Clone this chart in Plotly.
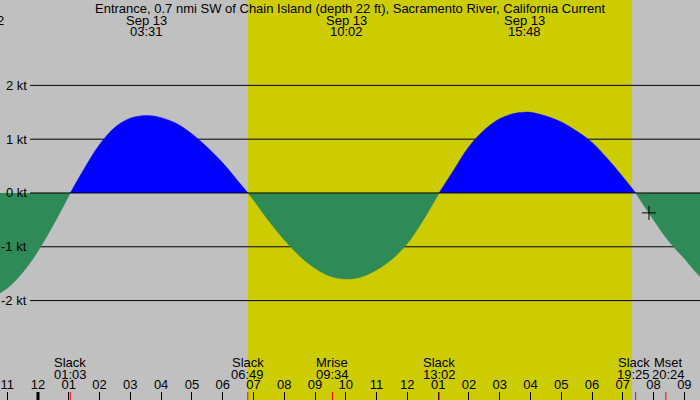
import plotly.graph_objects as go

# Tidal current, hours from Sep 13 00:00, speed in knots (flood > 0, ebb < 0)
hours = [-1.78, -1.5, -1.0, -0.5, 0.0, 0.5, 1.05, 1.5, 2.0, 2.5, 3.0, 3.52, 4.0, 4.5,
         5.0, 5.5, 6.0, 6.5, 6.82, 7.0, 7.5, 8.0, 8.5, 9.0, 9.5, 10.03, 10.5, 11.0,
         11.5, 12.0, 12.5, 13.03, 13.5, 14.0, 14.5, 15.0, 15.5, 15.8, 16.0, 16.5,
         17.0, 17.5, 18.0, 18.5, 19.0, 19.42, 20.0, 20.5, 21.0, 21.5, 22.0]
knots = [-1.95, -1.93, -1.77, -1.48, -1.08, -0.59, 0.0, 0.45, 0.90, 1.22, 1.39, 1.44, 1.40, 1.29,
         1.10, 0.85, 0.56, 0.22, 0.0, -0.13, -0.52, -0.87, -1.17, -1.40, -1.55, -1.60, -1.56, -1.43,
         -1.23, -0.94, -0.52, 0.0, 0.42, 0.86, 1.17, 1.38, 1.48, 1.50, 1.50, 1.43,
         1.32, 1.15, 0.94, 0.64, 0.30, 0.0, -0.50, -0.90, -1.22, -1.55, -1.78]

# max flood / ebb labels at top
max_dates = ["Sep 12", "Sep 13", "Sep 13", "Sep 13"]
max_times = ["22:13", "03:31", "10:02", "15:48"]

# events along the bottom
event_names = ["Slack", "Slack", "Mrise", "Slack", "Slack", "Mset"]
event_times = ["01:03", "06:49", "09:34", "13:02", "19:25", "20:24"]
event_shift = [0, 0, 0, 0, -2, 3]

# hour ticks
tick_hours = list(range(-1, 22))
tick_labels = ["11", "12", "01", "02", "03", "04", "05", "06", "07", "08", "09", "10", "11",
               "12", "01", "02", "03", "04", "05", "06", "07", "08", "09"]

kt_levels = [2, 1, 0, -1, -2]
kt_labels = ["2 kt", "1 kt", "0 kt", "-1 kt", "-2 kt"]

sunrise, sunset = "06:49", "19:18"
now_hour, now_kt = [19.85], [-0.37]

title = "Entrance, 0.7 nmi SW of Chain Island (depth 22 ft), Sacramento River, California Current"

X0, X1 = -1.2346, 21.508
Y0, Y1 = -3.848, 3.587


def to_h(s):
    hh, mm = s.split(":")
    return int(hh) + int(mm) / 60


def frac(h):
    return (h - X0) / (X1 - X0)


FONT = dict(family="Liberation Sans, Arial, sans-serif", size=13, color="black")

fig = go.Figure()

# split the curve at slack water so each lobe gets its own colour
segs, cur = [], []
for t, v in zip(hours, knots):
    cur.append((t, v))
    if v == 0 and len(cur) > 1:
        segs.append(cur)
        cur = [(t, v)]
segs.append(cur)

for seg in segs:
    xs = [p[0] for p in seg]
    ys = [p[1] for p in seg]
    col = "#0000FF" if sum(ys) > 0 else "#2E8B57"
    fig.add_trace(go.Scatter(x=xs, y=ys, mode="lines", line=dict(color=col, width=0.5, shape="spline"),
                             fill="tozeroy", fillcolor=col, hoverinfo="skip", showlegend=False))

fig.add_trace(go.Scatter(x=now_hour, y=now_kt, mode="markers",
                         marker=dict(symbol="cross-thin", size=10, line=dict(color="black", width=1)),
                         hoverinfo="skip", showlegend=False))

shapes = [dict(type="rect", xref="x", yref="paper", x0=to_h(sunrise), x1=to_h(sunset), y0=0, y1=1,
               fillcolor="#CCCC00", line=dict(width=0), layer="below")]
for lv in kt_levels:
    shapes.append(dict(type="line", xref="paper", yref="y", x0=30 / 700, x1=1, y0=lv, y1=lv,
                       line=dict(color="black", width=1), layer="above" if lv == 0 else "below"))
# midnight tick
shapes.append(dict(type="line", xref="x", yref="paper", x0=0, x1=0, y0=0, y1=0.02,
                   line=dict(color="black", width=3)))
for t in event_times:
    h = to_h(t)
    shapes.append(dict(type="line", xref="x", yref="paper", x0=h, x1=h, y0=0, y1=0.02,
                       line=dict(color="red", width=1)))

ann = [dict(text=title, xref="paper", yref="paper", x=0.5, y=1 - 8 / 400, showarrow=False,
            font=FONT, xanchor="center", yanchor="middle")]
for d, t in zip(max_dates, max_times):
    h = to_h(t) - (24 if d == "Sep 12" else 0)
    ann.append(dict(text=d, xref="paper", yref="paper", x=frac(h), y=1 - 20 / 400, showarrow=False,
                    font=FONT, xanchor="center", yanchor="middle"))
    ann.append(dict(text=t, xref="paper", yref="paper", x=frac(h), y=1 - 32 / 400, showarrow=False,
                    font=FONT, xanchor="center", yanchor="middle"))
for n, t, s in zip(event_names, event_times, event_shift):
    h = to_h(t)
    ann.append(dict(text=n, xref="paper", yref="paper", x=frac(h), y=1 - 362 / 400, showarrow=False,
                    font=FONT, xanchor="center", yanchor="middle", xshift=s))
    ann.append(dict(text=t, xref="paper", yref="paper", x=frac(h), y=1 - 374 / 400, showarrow=False,
                    font=FONT, xanchor="center", yanchor="middle", xshift=s))
for lv, lb in zip(kt_levels, kt_labels):
    ann.append(dict(text=lb, xref="paper", yref="y", x=29 / 700, y=lv, showarrow=False,
                    font=FONT, xanchor="right", yanchor="middle"))

fig.update_layout(
    width=700, height=400, margin=dict(l=0, r=0, t=0, b=0),
    paper_bgcolor="#C0C0C0", plot_bgcolor="#C0C0C0",
    shapes=shapes, annotations=ann, showlegend=False, hovermode=False,
    xaxis=dict(range=[X0, X1], showgrid=False, zeroline=False, showline=False, fixedrange=True,
               tickvals=tick_hours, ticktext=tick_labels, ticks="inside", ticklen=8,
               tickcolor="black", tickwidth=1, ticklabelposition="inside", tickfont=FONT),
    yaxis=dict(range=[Y0, Y1], showgrid=False, zeroline=False, showticklabels=False, fixedrange=True),
)

# page body has a default 8px margin; drop it so the chart sits at the window corner
fig.write_html("out.html", config={"displayModeBar": False},
               post_script="document.body.style.margin='0';")
